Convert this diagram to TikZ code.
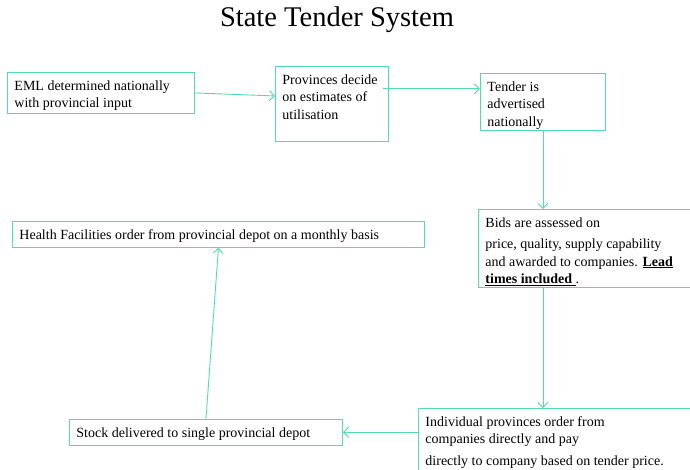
\documentclass[tikz,border=0pt]{standalone}
\usepackage{fontspec}
\setmainfont{Liberation Serif}
\usetikzlibrary{arrows.meta}
\definecolor{tgreen}{RGB}{80,222,176}
\tikzset{
  box/.style={draw=tgreen, line width=0.9pt, anchor=north west, inner xsep=7pt, inner ysep=8pt, font=\fontsize{14}{17.5}\selectfont},
  arr/.style={draw=tgreen, line width=0.9pt, -{Straight Barb[length=5pt,width=10pt]}}
}
\begin{document}
\begin{tikzpicture}[x=1pt,y=-1pt]
        \useasboundingbox[fill=white] (0,0) rectangle (690,470);
        \clip (0,0) rectangle (690,470);
        \node (title) at (337,20) {\fontsize{28.5}{32}\selectfont State Tender System};

        \node[box] (eml) at (7,72) {\parbox[t][25pt][t]{173pt}{EML determined nationally\\ with provincial input}};
        \node[box] (prov) at (275,66) {\parbox[t][59pt][t]{99pt}{Provinces decide\\ on estimates of\\ utilisation}};
        \node[box] (tender) at (480,73) {\parbox[t][41pt][t]{111pt}{Tender is\\ advertised\\ nationally}};
        \node[box] (bids) at (478,209) {\parbox[t][62pt][t]{215pt}{Bids are assessed on\\[4pt] price, quality, supply capability\\ and awarded to companies. \textbf{\underline{Lead}}\\ \textbf{\underline{times included }}.}};
        \node[box] (health) at (12,221) {\parbox[t][7pt][t]{398pt}{Health Facilities order from provincial depot on a monthly basis}};
        \node[box] (indiv) at (418,408) {\parbox[t][64pt][t]{275pt}{Individual provinces order from\\ companies directly and pay\\[4pt] directly to company based on tender price.}};
        \node[box] (stock) at (69,419) {\parbox[t][9pt][t]{259pt}{Stock delivered to single provincial depot}};

        \draw[arr] (eml.east) -- ([yshift=8pt]prov.west);
        \draw[arr] ([xshift=-6pt,yshift=15pt]prov.east) -- ([yshift=13pt]tender.west);
        \draw[arr] (tender.south) -- (tender.south |- bids.north);
        \draw[arr] (tender.south |- bids.south) -- (tender.south |- indiv.north);
        \draw[arr] (indiv.west |- stock.east) -- (stock.east);
        \draw[arr] (stock.north) -- (health.south);
      \end{tikzpicture}
\end{document}
